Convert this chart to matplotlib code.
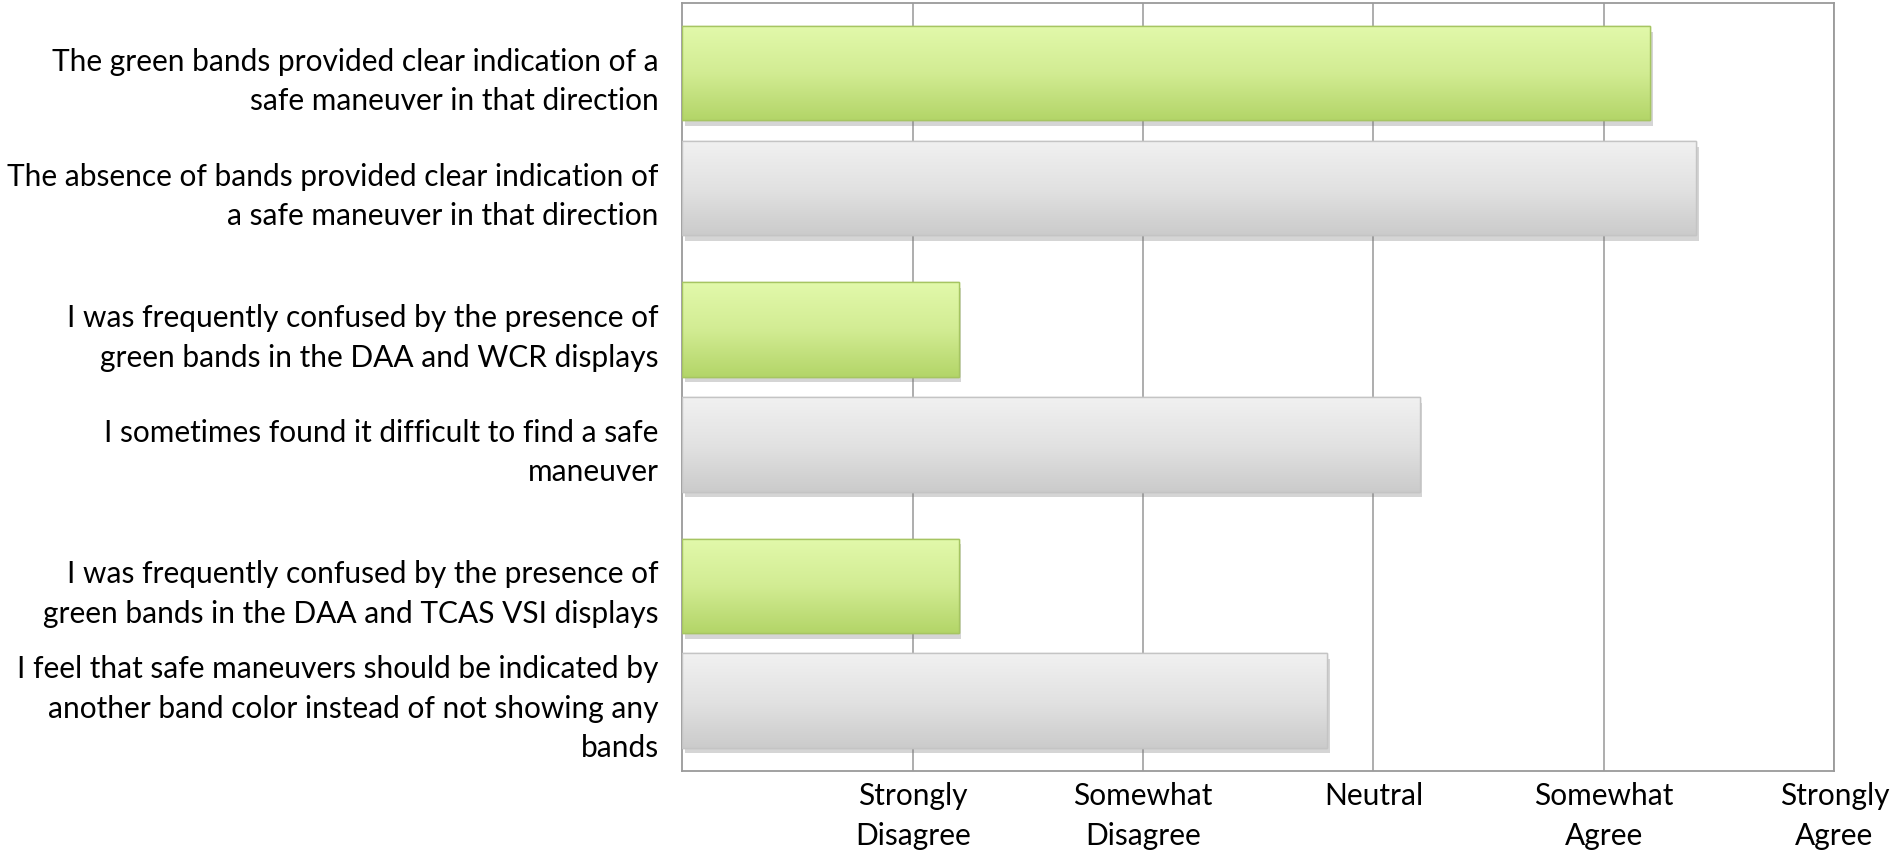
import numpy as np
import matplotlib.pyplot as plt
import matplotlib.patheffects as pe
from matplotlib.colors import LinearSegmentedColormap

plt.rcParams['font.family'] = ['Lato', 'DejaVu Sans']

statements = [
    'The green bands provided clear indication of a\nsafe maneuver in that direction',
    'The absence of bands provided clear indication of\na safe maneuver in that direction',
    'I was frequently confused by the presence of\ngreen bands in the DAA and WCR displays',
    'I sometimes found it difficult to find a safe\nmaneuver',
    'I was frequently confused by the presence of\ngreen bands in the DAA and TCAS VSI displays',
    'I feel that safe maneuvers should be indicated by\nanother band color instead of not showing any\nbands',
]
scores = [4.2, 4.4, 1.2, 3.2, 1.2, 2.8]
scale_labels = ['Strongly\nDisagree', 'Somewhat\nDisagree', 'Neutral', 'Somewhat\nAgree', 'Strongly\nAgree']
scale_ticks = [1, 2, 3, 4, 5]

green_cmap = LinearSegmentedColormap.from_list('g', ['#e2f9ab', '#d2ec93', '#b3d568'])
gray_cmap = LinearSegmentedColormap.from_list('k', ['#f1f1f1', '#e2e2e2', '#cbcbcb'])

fig = plt.figure(figsize=(18.95, 8.59), dpi=100)
ax = fig.add_axes([0.360, 0.102, 0.608, 0.895])

# 3 groups of two bars (green / gray), Excel-like spacing
n_groups = len(scores) // 2
bar_h = 0.368
pitch = 0.448
ypos = []
for g in range(n_groups):
    c = g + 0.5
    ypos += [c - pitch / 2, c + pitch / 2]

grad = np.linspace(0, 1, 256).reshape(-1, 1)
for i, (y, v) in enumerate(zip(ypos, scores)):
    green = i % 2 == 0
    cmap = green_cmap if green else gray_cmap
    edge = '#a6c562' if green else '#c4c4c4'
    bar = ax.barh(y, v, height=bar_h, color=cmap(0.5), edgecolor=edge,
                  linewidth=1.0, zorder=3)[0]
    bar.set_path_effects([pe.SimplePatchShadow(offset=(2, -4), shadow_rgbFace='#777777', alpha=0.3),
                          pe.Normal()])
    im = ax.imshow(grad, cmap=cmap, aspect='auto', origin='upper',
                   extent=(0, v, y + bar_h / 2, y - bar_h / 2), zorder=3.5)
    im.set_clip_path(bar)
    ax.barh(y, v, height=bar_h, color='none', edgecolor=edge, linewidth=1.0, zorder=4)

ax.set_xlim(0, 5)
ax.set_ylim(n_groups, 0)
ax.set_yticks(ypos)
ax.set_yticklabels(statements, fontsize=21.5, linespacing=1.5)
ax.set_xticks(scale_ticks)
ax.set_xticklabels(scale_labels, fontsize=21.5, linespacing=1.5)
ax.tick_params(axis='y', length=0, pad=17)
ax.tick_params(axis='x', length=0, pad=8)
ax.grid(axis='x', color='#a0a0a0', linewidth=1.2, zorder=0)
ax.set_axisbelow(True)
for s in ax.spines.values():
    s.set_color('#9a9a9a')
    s.set_linewidth(1.3)

fig.savefig('out.png', dpi=100)
